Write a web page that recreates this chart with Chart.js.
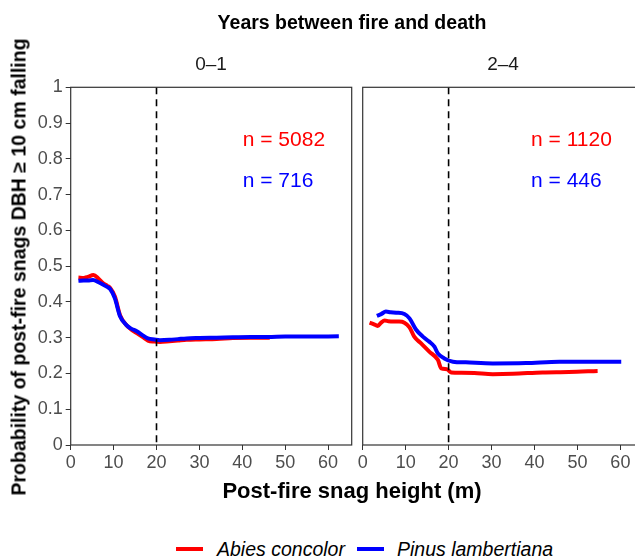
<!DOCTYPE html>
<html>
<head>
<meta charset="utf-8">
<script src="https://cdn.jsdelivr.net/npm/chart.js@4.4.1/dist/chart.umd.min.js"></script>
<style>
  body { margin: 0; background: #fff; }
  #wrap { position: relative; width: 635px; height: 557px; overflow: hidden; font-family: "Liberation Sans", Arial, sans-serif; }
  canvas { position: absolute; top: 0; }
  .txt { position: absolute; white-space: nowrap; color: #000; }
  .sw { position: absolute; height: 4px; width: 27px; }
</style>
</head>
<body>
<div id="wrap">
  <canvas id="panel01" width="362" height="480" style="left:0px"></canvas>
  <canvas id="panel24" width="300" height="480" style="left:355px"></canvas>

  <div class="txt" style="left:352px; top:22px; transform:translate(-50%,-50%); font-weight:bold; font-size:19.5px;">Years between fire and death</div>
  <div class="txt" style="left:211px; top:64px; transform:translate(-50%,-50%); font-size:19px; color:#1a1a1a;">0–1</div>
  <div class="txt" style="left:503px; top:64px; transform:translate(-50%,-50%); font-size:19px; color:#1a1a1a;">2–4</div>
  <div class="txt" style="left:19px; top:267px; transform:translate(-50%,-50%) rotate(-90deg); font-weight:bold; font-size:19.5px;">Probability of post-fire snags DBH ≥ 10 cm falling</div>
  <div class="txt" style="left:352px; top:491px; transform:translate(-50%,-50%); font-weight:bold; font-size:22px;">Post-fire snag height (m)</div>

  <div class="sw" style="left:176px; top:547px; background:#ff0000;"></div>
  <div class="txt" style="left:217px; top:549px; transform:translateY(-50%); font-style:italic; font-size:19.5px;">Abies concolor</div>
  <div class="sw" style="left:357px; top:547px; background:#0000ff;"></div>
  <div class="txt" style="left:397px; top:549px; transform:translateY(-50%); font-style:italic; font-size:19.5px;">Pinus lambertiana</div>
</div>

<script>
// ---- data ----
const xTicks = [0, 10, 20, 30, 40, 50, 60];
const yTicks = [0, 0.1, 0.2, 0.3, 0.4, 0.5, 0.6, 0.7, 0.8, 0.9, 1];

// 0-1 years
const abiesHeight01 = [1.8, 3, 4, 5.3, 6.5, 7.5, 8.5, 9.2, 10.3, 11.5, 13, 14, 15.4, 17, 18, 19.5, 20.8, 23, 25, 27, 30, 34, 37.8, 42, 46.4];
const abiesProb01   = [0.468, 0.467, 0.470, 0.475, 0.465, 0.453, 0.445, 0.439, 0.415, 0.363, 0.335, 0.324, 0.313, 0.300, 0.292, 0.289, 0.288, 0.290, 0.292, 0.294, 0.295, 0.296, 0.299, 0.300, 0.300];
const pinusHeight01 = [1.8, 3, 4, 5.2, 6.5, 7.5, 8.5, 9.2, 10.3, 11.5, 13, 14, 15.4, 17, 18, 19.5, 20.8, 23, 25, 27, 30, 34, 37.8, 42, 46, 50, 55, 62.5];
const pinusProb01   = [0.459, 0.460, 0.460, 0.461, 0.455, 0.449, 0.442, 0.436, 0.410, 0.360, 0.335, 0.326, 0.318, 0.305, 0.298, 0.295, 0.293, 0.294, 0.296, 0.298, 0.299, 0.300, 0.301, 0.302, 0.302, 0.303, 0.303, 0.304];

// 2-4 years
const abiesHeight24 = [1.6, 2.5, 3.5, 4.3, 5.1, 6, 7, 8.5, 9.7, 10.9, 12, 13.6, 15.5, 17.5, 18.3, 19.6, 20.6, 23, 26, 30.3, 35, 41.9, 48, 54.7];
const abiesProb24   = [0.342, 0.338, 0.333, 0.342, 0.348, 0.346, 0.345, 0.345, 0.342, 0.329, 0.303, 0.284, 0.261, 0.238, 0.214, 0.212, 0.203, 0.202, 0.201, 0.198, 0.199, 0.203, 0.204, 0.207];
const pinusHeight24 = [3.3, 4.3, 5.4, 6.5, 7.8, 9.7, 10.9, 12.4, 14, 15.5, 16.7, 17.5, 19, 21, 24, 30.3, 38, 45.8, 52, 60.2];
const pinusProb24   = [0.361, 0.366, 0.373, 0.371, 0.370, 0.366, 0.354, 0.323, 0.303, 0.289, 0.275, 0.256, 0.242, 0.233, 0.231, 0.228, 0.229, 0.233, 0.233, 0.233];

const nText01 = ['n = 5082', 'n = 716'];
const nText24 = ['n = 1120', 'n = 446'];

const RED = '#ff0000', BLUE = '#0000ff';
const FONT = '"Liberation Sans", Arial, sans-serif';

function pts(xs, ys) { return xs.map((x, i) => ({x: x, y: ys[i]})); }

// dashed line at 20 m, panel box and the n = ... labels
const panelDecor = {
  id: 'panelDecor',
  afterDatasetsDraw(chart, args, opts) {
    const ctx = chart.ctx, a = chart.chartArea, x = chart.scales.x, y = chart.scales.y;
    ctx.save();
    ctx.strokeStyle = '#000';
    ctx.lineWidth = 1.6;
    ctx.setLineDash([7, 5]);
    const px = x.getPixelForValue(20);
    ctx.beginPath(); ctx.moveTo(px, a.top); ctx.lineTo(px, a.bottom); ctx.stroke();
    ctx.setLineDash([]);
    ctx.strokeStyle = '#333';
    ctx.lineWidth = 1.2;
    ctx.strokeRect(a.left, a.top, a.right - a.left, a.bottom - a.top);
    ctx.font = '21px ' + FONT;
    ctx.textBaseline = 'middle';
    ctx.textAlign = 'left';
    opts.labels.forEach((l, i) => {
      ctx.fillStyle = i === 0 ? RED : BLUE;
      ctx.fillText(l, x.getPixelForValue(opts.labelX), y.getPixelForValue(i === 0 ? 0.853 : 0.738));
    });
    ctx.restore();
  }
};

function makePanel(id, abiesX, abiesY, pinusX, pinusY, nLabels, opt) {
  return new Chart(document.getElementById(id), {
    type: 'line',
    data: {
      datasets: [
        { data: pts(abiesX, abiesY), borderColor: RED, borderWidth: 4, pointRadius: 0, cubicInterpolationMode: 'monotone', order: 2 },
        { data: pts(pinusX, pinusY), borderColor: BLUE, borderWidth: 4, pointRadius: 0, cubicInterpolationMode: 'monotone', order: 1 }
      ]
    },
    options: {
      responsive: false,
      animation: false,
      devicePixelRatio: 1,
      layout: { padding: { top: 87.3, right: opt.padRight, left: 0, bottom: 0 } },
      plugins: {
        legend: { display: false },
        tooltip: { enabled: false },
        panelDecor: { labels: nLabels, labelX: opt.labelX }
      },
      scales: {
        x: {
          type: 'linear', min: 0, max: 65.5,
          afterBuildTicks: s => { s.ticks = xTicks.map(v => ({value: v})); },
          afterFit: s => { s.height = 35; },
          grid: { drawOnChartArea: false, tickLength: 5, color: '#333', tickColor: '#333' },
          border: { display: false },
          ticks: { color: '#4d4d4d', font: { family: FONT, size: 18 }, padding: 2, maxRotation: 0, autoSkip: false }
        },
        y: {
          type: 'linear', min: 0, max: 1,
          afterBuildTicks: s => { s.ticks = yTicks.map(v => ({value: v})); },
          afterFit: s => { s.width = opt.yWidth; },
          grid: { display: opt.showY, drawOnChartArea: false, tickLength: 5, color: '#333', tickColor: '#333' },
          border: { display: false },
          ticks: { display: opt.showY, color: '#4d4d4d', font: { family: FONT, size: 18 }, padding: 3,
                   callback: v => (v === 0 || v === 1) ? String(v) : v.toFixed(1) }
        }
      }
    },
    plugins: [panelDecor]
  });
}

makePanel('panel01', abiesHeight01, abiesProb01, pinusHeight01, pinusProb01, nText01,
          { padRight: 10.3, yWidth: 70.7, showY: true, labelX: 40.1 });
makePanel('panel24', abiesHeight24, abiesProb24, pinusHeight24, pinusProb24, nText24,
          { padRight: 11, yWidth: 7.7, showY: false, labelX: 39.2 });
</script>
</body>
</html>
